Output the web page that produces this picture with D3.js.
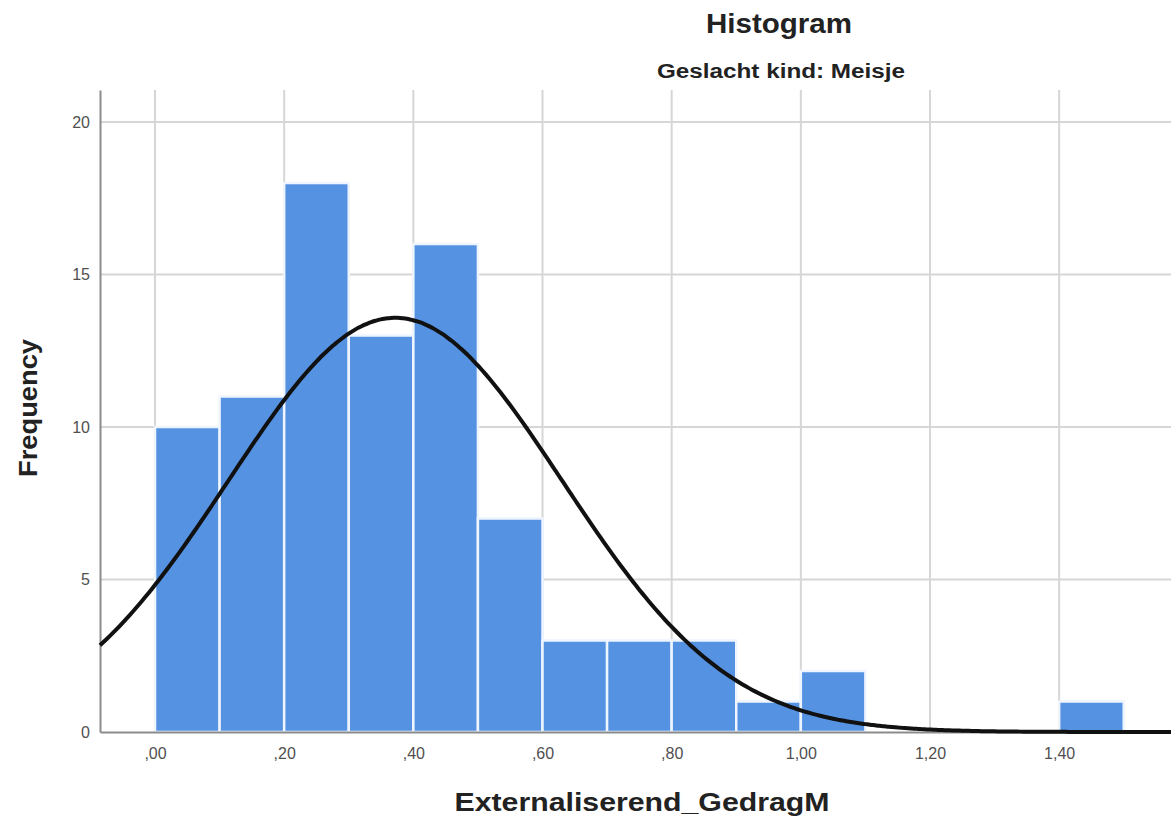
<!DOCTYPE html>
<html>
<head>
<meta charset="utf-8">
<script src="https://cdn.jsdelivr.net/npm/d3@7"></script>
<style>
  body { margin: 0; background: #fff; }
  svg { display: block; font-family: "Liberation Sans", Arial, sans-serif; }
</style>
</head>
<body>
<div id="chart"></div>
<script>
// histogram bins (lower edges) and counts
var binStarts = [0.0, 0.1, 0.2, 0.3, 0.4, 0.5, 0.6, 0.7, 0.8, 0.9, 1.0, 1.1, 1.2, 1.3, 1.4];
var counts = [10, 11, 18, 13, 16, 7, 3, 3, 3, 1, 2, 0, 0, 0, 1];
var binWidth = 0.1;
var xTicks = [0, 0.2, 0.4, 0.6, 0.8, 1.0, 1.2, 1.4];
var yTicks = [0, 5, 10, 15, 20];
// fitted normal curve parameters (estimated from the drawn curve)
var mean = 0.372;
var stdDev = 0.2585;
var nTotal = d3.sum(counts);

var width = 1171;
var height = 822;

var svg = d3.select("#chart")
  .append("svg")
  .attr("width", width)
  .attr("height", height);

var x = d3.scaleLinear()
  .domain([-0.0852, 1.5732])
  .range([100, 1171]);

var y = d3.scaleLinear()
  .domain([0, 21.05])
  .range([732, 90]);

function fmt(v) {
  // SPSS style: ,20 / 1,00
  var s = v.toFixed(2).replace(".", ",");
  return s.charAt(0) === "0" ? s.slice(1) : s;
}

// gridlines
svg.append("g")
  .selectAll("line")
  .data(xTicks)
  .enter().append("line")
  .attr("x1", function(d) { return x(d); })
  .attr("x2", function(d) { return x(d); })
  .attr("y1", y.range()[1])
  .attr("y2", y(0))
  .attr("stroke", "#d6d6d6")
  .attr("stroke-width", 2);

svg.append("g")
  .selectAll("line")
  .data(yTicks.slice(1))
  .enter().append("line")
  .attr("x1", x.range()[0])
  .attr("x2", x.range()[1])
  .attr("y1", function(d) { return y(d); })
  .attr("y2", function(d) { return y(d); })
  .attr("stroke", "#d6d6d6")
  .attr("stroke-width", 2);

// bars
svg.append("g")
  .selectAll("rect")
  .data(binStarts.map(function(b, i) { return { x0: b, count: counts[i] }; }))
  .enter().append("rect")
  .attr("x", function(d) { return x(d.x0); })
  .attr("width", function(d) { return x(d.x0 + binWidth) - x(d.x0); })
  .attr("y", function(d) { return y(d.count); })
  .attr("height", function(d) { return y(0) - y(d.count); })
  .attr("fill", "#5592e2")
  .attr("stroke", "#eef5ff")
  .attr("stroke-width", 2.5)
  .style("display", function(d) { return d.count > 0 ? null : "none"; });

// axes
var yAxis = d3.axisLeft(y)
  .tickValues(yTicks)
  .tickSize(0)
  .tickPadding(10);

var xAxis = d3.axisBottom(x)
  .tickValues(xTicks)
  .tickSize(0)
  .tickPadding(16)
  .tickFormat(fmt);

var gy = svg.append("g")
  .attr("transform", "translate(" + x.range()[0] + ",0)")
  .call(yAxis);

var gx = svg.append("g")
  .attr("transform", "translate(0," + y(0) + ")")
  .call(xAxis);

[gx, gy].forEach(function(g) {
  g.select(".domain").attr("stroke", "#8c8c8c").attr("stroke-width", 2);
  g.selectAll("text")
    .style("font-family", "'Liberation Sans', Arial, sans-serif")
    .style("font-size", "16px")
    .attr("fill", "#505050");
});

// normal curve
var curveXs = d3.range(x.domain()[0], x.domain()[1] + 0.005, 0.005);
function normal(v) {
  var z = (v - mean) / stdDev;
  return nTotal * binWidth / (stdDev * Math.sqrt(2 * Math.PI)) * Math.exp(-0.5 * z * z);
}

var line = d3.line()
  .x(function(d) { return x(d); })
  .y(function(d) { return y(normal(d)); })
  .curve(d3.curveBasis);

svg.append("path")
  .datum(curveXs)
  .attr("d", line)
  .attr("fill", "none")
  .attr("stroke", "#111")
  .attr("stroke-width", 4);

// titles
svg.append("text")
  .attr("x", 779)
  .attr("y", 33)
  .attr("text-anchor", "middle")
  .attr("textLength", 146)
  .attr("lengthAdjust", "spacingAndGlyphs")
  .style("font-size", "27px")
  .style("font-weight", "bold")
  .attr("fill", "#222")
  .text("Histogram");

svg.append("text")
  .attr("x", 781)
  .attr("y", 78)
  .attr("text-anchor", "middle")
  .attr("textLength", 248)
  .attr("lengthAdjust", "spacingAndGlyphs")
  .style("font-size", "20px")
  .style("font-weight", "bold")
  .attr("fill", "#222")
  .text("Geslacht kind: Meisje");

svg.append("text")
  .attr("transform", "translate(37,408) rotate(-90)")
  .attr("text-anchor", "middle")
  .attr("textLength", 138)
  .attr("lengthAdjust", "spacingAndGlyphs")
  .style("font-size", "26px")
  .style("font-weight", "bold")
  .attr("fill", "#222")
  .text("Frequency");

svg.append("text")
  .attr("x", 642)
  .attr("y", 811)
  .attr("text-anchor", "middle")
  .attr("textLength", 375)
  .attr("lengthAdjust", "spacingAndGlyphs")
  .style("font-size", "26px")
  .style("font-weight", "bold")
  .attr("fill", "#222")
  .text("Externaliserend_GedragM");
</script>
</body>
</html>
